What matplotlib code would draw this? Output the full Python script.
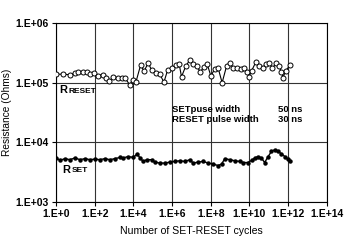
import matplotlib
matplotlib.use("Agg")
import matplotlib.pyplot as plt
import numpy as np

plt.rcParams["font.family"] = ["Liberation Sans", "DejaVu Sans"]
plt.rcParams["font.weight"] = "bold"

# RESET resistance: cycle exponent (10**x) and resistance in ohms
reset_exp = [0.00, 0.38, 0.72, 0.98, 1.15, 1.38, 1.58, 1.76, 1.98, 2.19, 2.41, 2.58,
             2.75, 2.96, 3.19, 3.39, 3.56, 3.82, 3.96, 4.13, 4.37, 4.56, 4.77, 4.94,
             5.17, 5.37, 5.58, 5.77, 5.98, 6.20, 6.37, 6.49, 6.71, 6.92, 7.09, 7.27,
             7.47, 7.64, 7.82, 8.01, 8.21, 8.38, 8.59, 8.82, 8.99, 9.16, 9.36, 9.56,
             9.73, 9.90, 9.98, 10.11, 10.33, 10.50, 10.68, 10.85, 11.02, 11.19, 11.40,
             11.53, 11.66, 11.74, 11.87, 12.09]
reset_ohm = [139000, 139000, 136000, 143000, 151000, 153000, 151000, 139000, 143000,
             132000, 136000, 120000, 105000, 123000, 122000, 120000, 120000, 92000,
             113000, 102000, 195000, 157000, 216000, 162000, 143000, 138000, 102000,
             162000, 178000, 195000, 204000, 126000, 190000, 240000, 204000, 190000,
             151000, 186000, 204000, 129000, 172000, 178000, 100000, 190000, 211000,
             178000, 178000, 172000, 174000, 151000, 126000, 157000, 221000, 190000,
             178000, 204000, 211000, 178000, 211000, 190000, 151000, 122000, 157000,
             195000]

# SET resistance
set_exp = [0.00, 0.21, 0.46, 0.72, 0.98, 1.24, 1.50, 1.76, 2.01, 2.27, 2.53, 2.79,
           3.05, 3.31, 3.48, 3.73, 3.99, 4.20, 4.34, 4.51, 4.68, 4.94, 5.11, 5.37,
           5.63, 5.89, 6.15, 6.40, 6.66, 6.92, 7.09, 7.35, 7.61, 7.87, 8.13, 8.38,
           8.56, 8.73, 8.99, 9.25, 9.50, 9.67, 9.93, 10.11, 10.28, 10.45, 10.62,
           10.79, 10.97, 11.14, 11.31, 11.48, 11.66, 11.83, 12.00, 12.12]
set_ohm = [5500, 5000, 5350, 5130, 5500, 5130, 5350, 5130, 5250, 5130, 5350, 5130,
           5350, 5600, 5500, 5800, 5600, 6400, 5500, 4800, 5130, 5130, 4680, 4500,
           4500, 4680, 4800, 4920, 4800, 5130, 4500, 4680, 4800, 4500, 4330, 4100,
           4330, 5350, 5130, 4920, 4800, 4600, 4600, 5000, 5500, 5800, 5500, 4600,
           5800, 7050, 7530, 7050, 6450, 5800, 5250, 4800]

x_ticks = [0, 2, 4, 6, 8, 10, 12, 14]
x_labels = ["1.E+0", "1.E+2", "1.E+4", "1.E+6", "1.E+8", "1.E+10", "1.E+12", "1.E+14"]
y_ticks = [1e3, 1e4, 1e5, 1e6]
y_labels = ["1.E+03", "1.E+04", "1.E+05", "1.E+06"]

fig = plt.figure(figsize=(3.6, 2.4), dpi=100)
ax = fig.add_axes([0.1556, 0.158, 0.752, 0.746])

ax.set_xscale("log")
ax.set_yscale("log")

ax.plot(10.0 ** np.array(reset_exp), reset_ohm, color="black", lw=0.8,
        marker="o", ms=3.6, mfc="white", mec="black", mew=0.7, zorder=3)
ax.plot(10.0 ** np.array(set_exp), set_ohm, color="black", lw=1.0,
        marker="o", ms=2.2, mfc="black", mec="black", zorder=3)

ax.set_xlim(1, 1e14)
ax.set_ylim(1e3, 1e6)
ax.set_xticks([10.0 ** e for e in x_ticks])
ax.set_xticklabels(x_labels, fontsize=7.5)
ax.set_yticks(y_ticks)
ax.set_yticklabels(y_labels, fontsize=7.5)
ax.minorticks_off()
ax.tick_params(length=3, width=0.8, pad=2, direction="out")
ax.grid(True, color="#333333", lw=0.8)
ax.set_axisbelow(True)
for s in ax.spines.values():
    s.set_linewidth(0.8)

ax.set_xlabel("Number of SET-RESET cycles", fontsize=7.6, labelpad=5)
ax.set_ylabel("Resistance (Ohms)", fontsize=7.3, labelpad=3)

# series labels
ax.text(0.012, 0.625, "R", transform=ax.transAxes, fontsize=8, va="center")
ax.text(0.045, 0.62, "RESET", transform=ax.transAxes, fontsize=6, va="center")
ax.text(0.022, 0.18, "R", transform=ax.transAxes, fontsize=8, va="center")
ax.text(0.057, 0.175, "SET", transform=ax.transAxes, fontsize=6, va="center")

# pulse width annotation
ax.text(0.43, 0.518, "SETpuse width", transform=ax.transAxes, fontsize=6.8, va="center")
ax.text(0.43, 0.464, "RESET pulse width", transform=ax.transAxes, fontsize=6.8, va="center")
ax.text(0.82, 0.518, "50 ns", transform=ax.transAxes, fontsize=6.8, va="center")
ax.text(0.82, 0.464, "30 ns", transform=ax.transAxes, fontsize=6.8, va="center")

fig.savefig("out.png", dpi=100)
